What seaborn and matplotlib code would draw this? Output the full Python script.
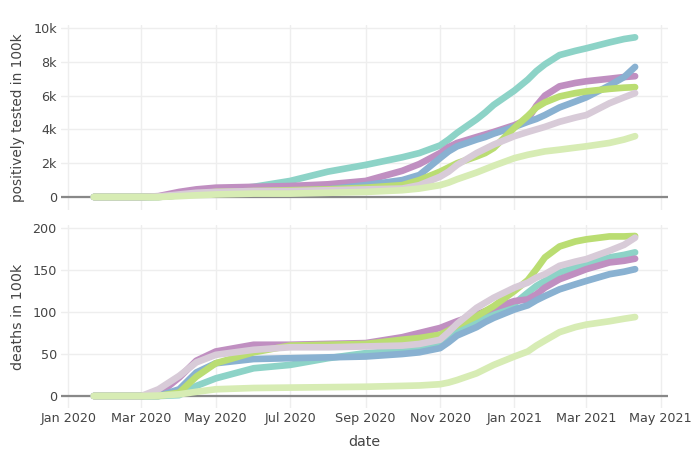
import matplotlib
matplotlib.use("Agg")
import matplotlib.pyplot as plt
import matplotlib.dates as mdates
from matplotlib.ticker import FuncFormatter, FixedLocator
import seaborn as sns
import pandas as pd

dates = ["2020-01-22", "2020-03-01", "2020-03-15", "2020-04-01", "2020-04-15",
         "2020-05-01", "2020-06-01", "2020-07-01", "2020-08-01", "2020-09-01",
         "2020-10-01", "2020-10-15", "2020-11-01", "2020-11-08", "2020-11-15",
         "2020-12-01", "2020-12-08", "2020-12-15", "2021-01-01", "2021-01-12",
         "2021-01-19", "2021-01-26", "2021-02-07", "2021-02-20", "2021-03-01",
         "2021-03-20", "2021-04-01", "2021-04-10"]

series = ["teal", "purple", "blue", "green", "lavender", "lightgreen"]
colors = ["#8dd3c7", "#c08fc1", "#89b1d1", "#badd72", "#d8cbd8", "#d7ecb4"]

# positively tested in 100k (thousands)
cases_teal = [0, 0, 0.02, 0.1, 0.2, 0.35, 0.6, 0.95, 1.5, 1.9, 2.35, 2.6, 3.05, 3.4,
              3.8, 4.6, 5.0, 5.45, 6.3, 6.95, 7.45, 7.85, 8.4, 8.65, 8.8, 9.15, 9.35, 9.45]
cases_purple = [0, 0, 0.05, 0.3, 0.45, 0.55, 0.6, 0.65, 0.75, 0.95, 1.55, 1.95, 2.6,
                2.95, 3.2, 3.55, 3.7, 3.85, 4.25, 4.6, 5.4, 6.0, 6.55, 6.75, 6.85,
                7.0, 7.1, 7.15]
cases_blue = [0, 0, 0, 0.1, 0.2, 0.25, 0.3, 0.35, 0.45, 0.7, 1.0, 1.3, 2.3, 2.7, 3.0,
              3.4, 3.55, 3.75, 4.15, 4.45, 4.62, 4.85, 5.3, 5.65, 5.9, 6.6, 7.1, 7.7]
cases_green = [0, 0, 0, 0.1, 0.2, 0.3, 0.35, 0.4, 0.45, 0.55, 0.7, 1.0, 1.5, 1.75,
               2.0, 2.4, 2.6, 2.9, 4.1, 4.8, 5.3, 5.6, 5.95, 6.15, 6.25, 6.4, 6.47, 6.5]
cases_lavender = [0, 0, 0.03, 0.15, 0.25, 0.3, 0.35, 0.35, 0.4, 0.45, 0.5, 0.7, 1.2,
                  1.5, 1.9, 2.6, 2.85, 3.1, 3.6, 3.85, 4.0, 4.15, 4.45, 4.7, 4.85,
                  5.55, 5.9, 6.15]
cases_lightgreen = [0, 0, 0, 0.05, 0.1, 0.15, 0.2, 0.2, 0.25, 0.3, 0.4, 0.5, 0.7,
                    0.85, 1.05, 1.45, 1.65, 1.85, 2.3, 2.5, 2.6, 2.7, 2.8, 2.92, 3.0,
                    3.2, 3.4, 3.6]

# deaths in 100k
deaths_teal = [0, 0, 0, 1, 12, 21, 33, 37, 45, 51, 54, 55, 60, 68, 76, 89, 94, 98,
               110, 123, 131, 137, 147, 153, 157, 165, 168, 171]
deaths_purple = [0, 0, 2, 22, 42, 53, 61, 61, 62, 63, 70, 75, 81, 85, 89, 97, 101,
                 105, 113, 115, 121, 129, 139, 146, 151, 159, 161, 163.5]
deaths_blue = [0, 0, 0, 8, 28, 39, 44, 45, 46, 47, 50, 52, 57, 64, 72, 82, 88, 93,
               103, 108, 114, 119, 127, 133, 137, 145, 148, 151]
deaths_green = [0, 0, 0, 4, 23, 39, 52, 60, 61, 62, 67, 69, 73, 78, 84, 95, 101, 107,
                125, 138, 151, 165, 178, 184, 186.5, 190, 190, 190.5]
deaths_lavender = [0, 0, 8, 24, 40, 49, 55, 58, 58, 59, 60, 62, 67, 76, 86, 105, 111,
                   117, 129, 135, 141, 145, 155, 160, 163, 173, 180, 188.5]
deaths_lightgreen = [0, 0, 0.5, 2, 5, 8, 9.5, 10, 10.5, 11, 12, 12.5, 14, 16, 19, 27,
                     32, 37, 47, 53, 60, 66, 76, 82, 85, 89, 92, 94]

cases = [cases_teal, cases_purple, cases_blue, cases_green, cases_lavender, cases_lightgreen]
deaths = [deaths_teal, deaths_purple, deaths_blue, deaths_green, deaths_lavender, deaths_lightgreen]

rows = []
for name, c, d in zip(series, cases, deaths):
    for dt, cv, dv in zip(dates, c, d):
        rows.append({"date": pd.Timestamp(dt), "series": name, "cases": cv * 1000, "deaths": dv})
df = pd.DataFrame(rows)

sns.set_theme(style="white")
plt.rcParams['font.family'] = ['DejaVu Sans']

fig = plt.figure(figsize=(7, 4.5), dpi=100)
ax1 = fig.add_axes([61 / 700, 1 - 210 / 450, 607 / 700, 185 / 450])
ax2 = fig.add_axes([61 / 700, 1 - 408 / 450, 607 / 700, 183 / 450])

palette = dict(zip(series, colors))
txt = "#444444"

for ax, col in [(ax1, "cases"), (ax2, "deaths")]:
    sns.lineplot(data=df, x="date", y=col, hue="series", palette=palette, ax=ax,
                 linewidth=4.8, legend=False, solid_capstyle="round",
                 solid_joinstyle="round", zorder=3)
    for s in ax.spines.values():
        s.set_visible(False)
    ax.set_xlim(pd.Timestamp("2019-12-26"), pd.Timestamp("2021-05-07"))
    ax.grid(True, color="#eeeeee", linewidth=1)
    ax.set_axisbelow(True)
    ax.axhline(0, color="#888888", linewidth=1.6, zorder=2)
    ax.tick_params(axis="both", length=0, colors=txt, labelsize=9.2, pad=3)
    ax.xaxis.set_major_locator(mdates.MonthLocator(bymonth=[1, 3, 5, 7, 9, 11]))
    ax.xaxis.set_major_formatter(mdates.DateFormatter("%b %Y"))

ax1.set_ylim(-770, 10180)
ax1.yaxis.set_major_locator(FixedLocator([0, 2000, 4000, 6000, 8000, 10000]))
ax1.yaxis.set_major_formatter(FuncFormatter(lambda v, p: "0" if v == 0 else f"{int(v/1000)}k"))
ax1.tick_params(axis="x", labelbottom=False)
ax1.set_xlabel("")
ax1.set_ylabel("positively tested in 100k", color=txt, fontsize=9.8)

ax2.set_ylim(-14.3, 203.6)
ax2.yaxis.set_major_locator(FixedLocator([0, 50, 100, 150, 200]))
ax2.set_ylabel("deaths in 100k", color=txt, fontsize=10.3)
ax2.set_xlabel("date", color=txt, fontsize=10.3, labelpad=7)

for ax in (ax1, ax2):
    ax.yaxis.set_label_coords(-0.06, 0.5)

fig.savefig("out.png", dpi=100)
